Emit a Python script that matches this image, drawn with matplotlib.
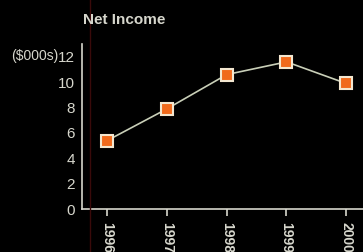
import matplotlib
matplotlib.use('Agg')
import matplotlib.pyplot as plt

plt.rcParams['font.family'] = ['Liberation Sans', 'DejaVu Sans']

years = [1996, 1997, 1998, 1999, 2000]
income = [5.4, 7.9, 10.6, 11.6, 9.9]
yticks = [0, 2, 4, 6, 8, 10, 12]

fg = '#d6d6cc'
fig = plt.figure(figsize=(3.63, 2.52), dpi=100, facecolor='black')
ax = fig.add_axes([0.226, 0.17, 0.774, 0.655], facecolor='black')

# faint red rule from the original scan
fig.add_artist(plt.Line2D([90 / 363, 90 / 363], [0, 1], color='#3a0a0a', lw=1))

ax.plot(years, income, color='#c9cfb8', lw=1.2, marker='s', markersize=8,
        markerfacecolor='#f06a1c', markeredgecolor='#f3e7d0', markeredgewidth=1.5)

ax.set_xlim(1995.58, 2000.28)
ax.set_ylim(0, 13)
ax.set_yticks(yticks)
ax.set_yticklabels([str(v) for v in yticks], color=fg, fontsize=11)
ax.set_xticks(years)
ax.set_xticklabels([str(y) for y in years], rotation=270, color=fg,
                   fontsize=10, fontweight='bold')
ax.tick_params(axis='y', length=0, pad=5)
ax.tick_params(axis='x', length=5, color=fg, width=1.2, pad=4)

for s in ['top', 'right']:
    ax.spines[s].set_visible(False)
for s in ['left', 'bottom']:
    ax.spines[s].set_color(fg)
    ax.spines[s].set_linewidth(1.2)

fig.text(83 / 363, 1 - 20 / 252, 'Net Income', color=fg, fontsize=11,
         fontweight='bold', va='center', ha='left')
fig.text(58 / 363, 1 - 56 / 252, '($000s)', color=fg, fontsize=10,
         va='center', ha='right')

fig.savefig('out.png', dpi=100, facecolor='black')
